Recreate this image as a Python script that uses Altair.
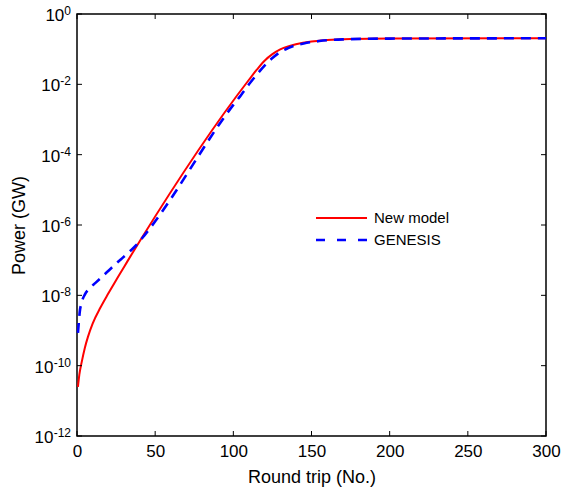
import altair as alt
import pandas as pd

# ---- data (power in GW) ----
red_x = [0.6, 1.5, 3, 5, 7, 10, 15, 20, 25, 30, 35, 40, 110,
         115, 120, 125, 130, 135, 140, 150, 160, 175, 200, 300]
red_p = [2.5e-11, 5.6e-11, 1.26e-10, 3.2e-10, 6.6e-10, 1.58e-9, 4.5e-9, 1.12e-8,
         2.7e-8, 6.3e-8, 1.48e-7, 3.4e-7, 1.35e-2,
         2.6e-2, 4.7e-2, 7.2e-2, 9.8e-2, 0.120, 0.138, 0.166, 0.182, 0.195, 0.202, 0.204]

blue_x = [0.6, 1.2, 1.7, 3, 5, 8, 12, 17, 22, 28, 34, 38, 42, 46.5, 100,
          105, 110, 115, 120, 125, 130, 135, 140, 145, 155, 170, 200, 300]
blue_p = [8.5e-10, 1.78e-9, 3.2e-9, 6.3e-9, 1.05e-8, 1.58e-8, 2.3e-8, 3.7e-8, 6.0e-8,
          1.05e-7, 1.82e-7, 2.7e-7, 4.4e-7, 7.9e-7, 2.6e-3,
          5.0e-3, 1.0e-2, 1.9e-2, 3.4e-2, 5.6e-2, 8.3e-2, 0.107, 0.129, 0.145, 0.170,
          0.190, 0.200, 0.204]

x_ticks = [0, 50, 100, 150, 200, 250, 300]
y_ticks = [1e-12, 1e-10, 1e-8, 1e-6, 1e-4, 1e-2, 1]
y_exps = ["-12", "-10", "-8", "-6", "-4", "-2", "0"]
series_names = ["New model", "GENESIS"]
series_colors = ["#ff0000", "#0000ff"]

# ---- layout ----
W, H = 469, 422
FONT = "Liberation Sans"
TICK = 5

red_df = pd.DataFrame({"x": red_x, "p": red_p})
blue_df = pd.DataFrame({"x": blue_x, "p": blue_p})
xt_df = pd.DataFrame({"x": x_ticks})
yt_df = pd.DataFrame({"p": y_ticks, "e": y_exps})

xscale = alt.Scale(domain=[0, 300], nice=False, zero=False)
yscale = alt.Scale(type="log", domain=[1e-12, 1], nice=False)

x_enc = alt.X("x:Q", scale=xscale,
              axis=alt.Axis(values=x_ticks, title="Round trip (No.)", format="d",
                            labelPadding=7, titlePadding=9, labelFlush=False,
                            labelOverlap=False))
y_enc = alt.Y("p:Q", scale=yscale,
              axis=alt.Axis(values=y_ticks, labels=False, title="Power (GW)",
                            titleX=-58, titleY=H / 2, titleAngle=270,
                            titleAlign="center", titleBaseline="middle"))

red_line = alt.Chart(red_df).mark_line(
    color=series_colors[0], strokeWidth=2, interpolate="monotone"
).encode(x=x_enc, y=y_enc)

blue_line = alt.Chart(blue_df).mark_line(
    color=series_colors[1], strokeWidth=2.6, strokeDash=[10, 7], interpolate="monotone"
).encode(x="x:Q", y="p:Q")

# inward ticks on all four sides
tick_bottom = alt.Chart(xt_df).mark_rule(color="black", strokeWidth=1).encode(
    x="x:Q", y=alt.value(H), y2=alt.value(H - TICK))
tick_top = alt.Chart(xt_df).mark_rule(color="black", strokeWidth=1).encode(
    x="x:Q", y=alt.value(0), y2=alt.value(TICK))
tick_left = alt.Chart(yt_df).mark_rule(color="black", strokeWidth=1).encode(
    y="p:Q", x=alt.value(0), x2=alt.value(TICK))
tick_right = alt.Chart(yt_df).mark_rule(color="black", strokeWidth=1).encode(
    y="p:Q", x=alt.value(W), x2=alt.value(W - TICK))

# y tick labels: "10" with a raised exponent
exp_lbl = alt.Chart(yt_df).mark_text(
    align="right", baseline="middle", fontSize=12, font=FONT, color="black", dy=-3
).encode(x=alt.value(-6), y="p:Q", text="e:N")
base_lbl = alt.Chart(yt_df).transform_calculate(
    bx="-6 - (indexof(datum.e, '-') >= 0 ? 4.2 : 0) - (length(datum.e) - (indexof(datum.e, '-') >= 0 ? 1 : 0)) * 6.7"
).mark_text(
    align="right", baseline="middle", fontSize=17, font=FONT, color="black", dy=2
).encode(x=alt.X("bx:Q", scale=None), y="p:Q", text=alt.value("10"))

# manual legend (no box)
leg_df = pd.DataFrame({"s": series_names})
leg_red = alt.Chart(leg_df).transform_filter(alt.datum.s == series_names[0]).mark_rule(
    color=series_colors[0], strokeWidth=2).encode(
    x=alt.value(239), x2=alt.value(290), y=alt.value(204))
leg_blue = alt.Chart(leg_df).transform_filter(alt.datum.s == series_names[1]).mark_rule(
    color=series_colors[1], strokeWidth=2.6, strokeDash=[9, 12]).encode(
    x=alt.value(239), x2=alt.value(290), y=alt.value(226))
leg_red_t = alt.Chart(leg_df).transform_filter(alt.datum.s == series_names[0]).mark_text(
    align="left", baseline="middle", fontSize=15, font=FONT, color="black").encode(
    x=alt.value(297), y=alt.value(204), text="s:N")
leg_blue_t = alt.Chart(leg_df).transform_filter(alt.datum.s == series_names[1]).mark_text(
    align="left", baseline="middle", fontSize=15, font=FONT, color="black").encode(
    x=alt.value(297), y=alt.value(226), text="s:N")

chart = alt.layer(
    red_line, blue_line, tick_bottom, tick_top, tick_left, tick_right,
    exp_lbl, base_lbl, leg_red, leg_blue, leg_red_t, leg_blue_t
).properties(
    width=W, height=H,
    autosize=alt.AutoSizeParams(type="none"),
    padding={"left": 77, "top": 14, "right": 15, "bottom": 58},
    background="white",
).configure_view(
    stroke="black", strokeWidth=1.5
).configure_axis(
    domain=False, ticks=False, tickSize=0, grid=False,
    labelFont=FONT, labelFontSize=17, labelColor="black",
    titleFont=FONT, titleFontSize=18, titleFontWeight="normal", titleColor="black",
)

chart.save("out.html", embed_options={"renderer": "svg", "actions": False})
